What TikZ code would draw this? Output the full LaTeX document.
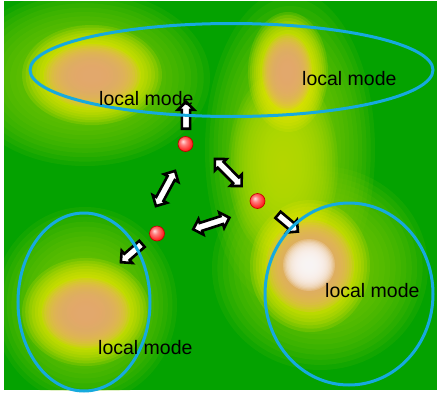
\documentclass[tikz,border=0pt]{standalone}
\usepackage{fontspec}
\setmainfont{Liberation Sans}
\usetikzlibrary{shapes.arrows}

\definecolor{fieldgreen}{RGB}{4,162,0}
\definecolor{paleg}{RGB}{125,202,0}
\definecolor{lime}{RGB}{190,222,0}
\definecolor{yel}{RGB}{235,232,0}
\definecolor{peach}{RGB}{226,168,112}
\definecolor{snow}{RGB}{252,248,248}
\definecolor{ring}{RGB}{22,170,222}

% soft hill: a stack of translucent concentric ellipses
% #1 layer opacity, #2 colour, (#3,#4) centre, #5 and #6 outer radii
\newcommand{\softhill}[6]{%
  \foreach \k in {1,...,20}{%
    \fill[#2, fill opacity=#1] (#3,#4) ellipse ({#5*\k/20} and {#6*\k/20});
  }%
}

% glossy red bead
\pgfdeclareradialshading{beadshade}{\pgfpoint{-9bp}{9bp}}{%
  color(0bp)=(red!12!white); color(10bp)=(red!50!white);
  color(26bp)=(red!88!white); color(40bp)=(red!95!black); color(50bp)=(red!85!black)}

\tikzset{
  modering/.style={draw=ring, line width=3pt},
  modelabel/.style={inner sep=0pt, anchor=base west, font=\fontsize{19.5}{20}\selectfont},
  bead/.style={circle, minimum size=15pt, inner sep=0pt, shading=beadshade,
    draw=red!75!black, line width=0.6pt},
  onearrow/.style={single arrow, draw=black, fill=white, line width=2.6pt,
    inner xsep=0pt, inner ysep=2.8pt, single arrow head extend=4pt,
    single arrow tip angle=90, anchor=tail, minimum height=#1},
  twoarrow/.style={double arrow, draw=black, fill=white, line width=2.6pt,
    inner xsep=0pt, inner ysep=2.8pt, double arrow head extend=4pt,
    double arrow tip angle=90, minimum height=#1},
}

\begin{document}
\begin{tikzpicture}[x=1pt, y=-1pt]
  \useasboundingbox (0,0) rectangle (437,394);
  \fill[white] (0,0) rectangle (437,394);

  % landscape
  \begin{scope}
    \clip (4,1) rectangle (437,390);
    \fill[fieldgreen] (4,1) rectangle (437,390);
    % broad lighter areas
    \softhill{0.12}{paleg}{85}{78}{125}{88}
    \softhill{0.12}{paleg}{290}{150}{85}{160}
    \softhill{0.12}{paleg}{85}{305}{92}{98}
    \softhill{0.12}{paleg}{320}{268}{108}{102}
    \softhill{0.12}{lime}{283}{165}{55}{95}
    % top-left hill
    \softhill{0.17}{yel}{92}{75}{70}{50}
    \softhill{0.2}{peach}{92}{76}{48}{32}
    % top-right hill
    \softhill{0.17}{yel}{288}{72}{40}{60}
    \softhill{0.2}{peach}{287}{72}{25}{38}
    % bottom-left hill
    \softhill{0.17}{yel}{86}{312}{64}{54}
    \softhill{0.2}{peach}{86}{313}{44}{35}
    % bottom-right hill
    \softhill{0.17}{yel}{310}{266}{60}{66}
    \softhill{0.2}{peach}{310}{266}{44}{46}
    \softhill{0.2}{snow}{309}{265}{26}{26}
  \end{scope}

  % moves between samples
  \node[onearrow=27pt, rotate=90] (moveUp) at (186,130) {};
  \node[onearrow=26pt, rotate=-40] (moveRight) at (277,214) {};
  \node[onearrow=28pt, rotate=-139] (moveLeft) at (143,243) {};
  \node[twoarrow=40pt, rotate=61.5] (swapAC) at (165.5,188.5) {};
  \node[twoarrow=38pt, rotate=-45.3] (swapAB) at (228.3,172.5) {};
  \node[twoarrow=38pt, rotate=17.9] (swapCB) at (211.3,223.5) {};

  % samples
  \node[bead] (beadA) at (185.5,144) {};
  \node[bead] (beadB) at (257.5,201) {};
  \node[bead] (beadC) at (157,233.5) {};

  % mode outlines
  \draw[modering] (231.5,70) ellipse (201.5 and 46.5);
  \draw[modering] (84,302) ellipse (66 and 89);
  \draw[modering] (349,294) ellipse (84 and 91);

  % labels
  \node[modelabel] (labA) at (99,105) {local mode};
  \node[modelabel] (labB) at (302,85) {local mode};
  \node[modelabel] (labC) at (98,354) {local mode};
  \node[modelabel] (labD) at (325,297) {local mode};
\end{tikzpicture}
\end{document}
